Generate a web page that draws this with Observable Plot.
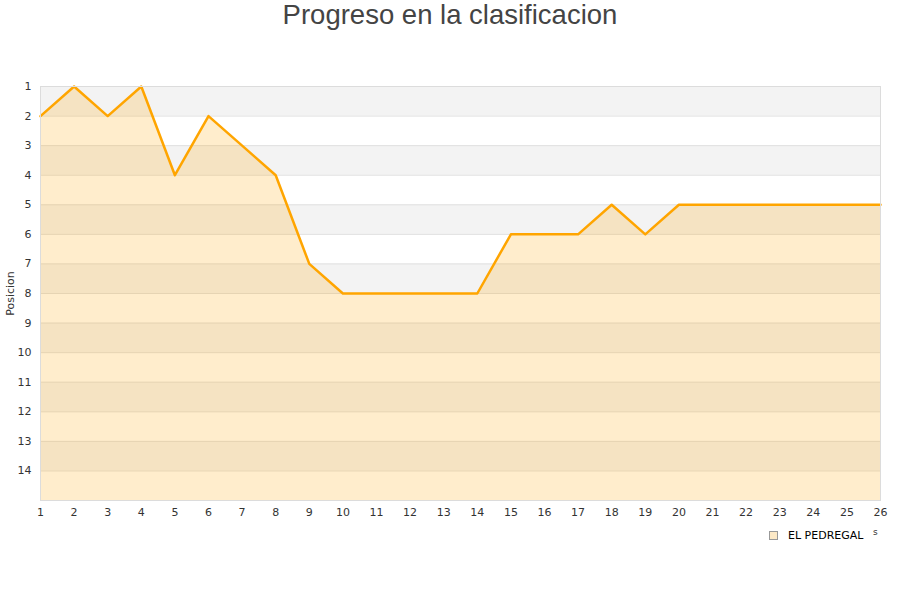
<!DOCTYPE html>
<html>
<head>
<meta charset="utf-8">
<script src="https://cdn.jsdelivr.net/npm/d3@7"></script>
<script src="https://cdn.jsdelivr.net/npm/@observablehq/plot@0.6"></script>
<style>
  body { margin: 0; background: #fff; }
  #wrap { position: relative; width: 900px; height: 600px; overflow: hidden; }
  #title { position: absolute; left: 0; top: 0; width: 900px; text-align: center;
    font-family: "Liberation Sans", Arial, sans-serif; font-size: 27.5px; color: #444; line-height: 30px; }
  #legend { position: absolute; left: 769px; top: 529px; font-family: "DejaVu Sans", sans-serif;
    font-size: 11px; color: #000; display: flex; align-items: center; }
  #legend .sw { width: 7px; height: 7px; border: 1px solid #999; background: #fde9c6; margin-right: 10px; }
  #stray { position: absolute; left: 873px; top: 527px; font-family: "DejaVu Sans", sans-serif; font-size: 9px; color: #333; }
  #chart { position: absolute; left: 0; top: 0; }
</style>
</head>
<body>
<div id="wrap">
  <div id="chart"></div>
  <div id="title">Progreso en la clasificacion</div>
  <div id="legend"><div class="sw"></div><span id="legname"></span></div>
  <div id="stray">s</div>
</div>
<script>
const rounds = [1,2,3,4,5,6,7,8,9,10,11,12,13,14,15,16,17,18,19,20,21,22,23,24,25,26];
const positions = [2,1,2,1,4,2,3,4,7,8,8,8,8,8,6,6,6,5,6,5,5,5,5,5,5,5];
const teamName = "EL PEDREGAL";
const yTicks = [1,2,3,4,5,6,7,8,9,10,11,12,13,14];
const yMax = 15;
const yLabel = "Posicion";

document.getElementById("legname").textContent = teamName;

const data = rounds.map((r, i) => ({round: r, pos: positions[i]}));
const bands = yTicks.filter(t => t % 2 === 1);

const chart = Plot.plot({
  width: 900,
  height: 600,
  marginLeft: 40,
  marginRight: 20,
  marginTop: 86,
  marginBottom: 100,
  x: {domain: [1, 26], range: [40, 880]},
  y: {domain: [1, yMax], range: [86, 500]},
  style: {fontFamily: "DejaVu Sans, sans-serif", fontSize: "11px", color: "#333", background: "#fff"},
  marks: [
    Plot.rect(bands, {x1: 1, x2: 26, y1: d => d, y2: d => d + 1, fill: "#f3f3f3"}),
    Plot.ruleY(yTicks.slice(1), {stroke: "#e0e0e0", strokeWidth: 1}),
    Plot.areaY(data, {x: "round", y1: yMax, y2: "pos", fill: "#ffa500", fillOpacity: 0.2}),
    Plot.lineY(data, {x: "round", y: "pos", stroke: "#ffa500", strokeWidth: 2.5}),
    Plot.frame({stroke: "#dcdcdc", strokeWidth: 1}),
    Plot.axisX({ticks: rounds, tickSize: 0, tickPadding: 8, tickFormat: d => String(d), label: null}),
    Plot.axisY({ticks: yTicks, tickSize: 0, tickPadding: 9, tickFormat: d => String(d),
      label: yLabel, labelAnchor: "center", labelArrow: "none", labelOffset: 34})
  ]
});
document.getElementById("chart").appendChild(chart);
</script>
</body>
</html>
